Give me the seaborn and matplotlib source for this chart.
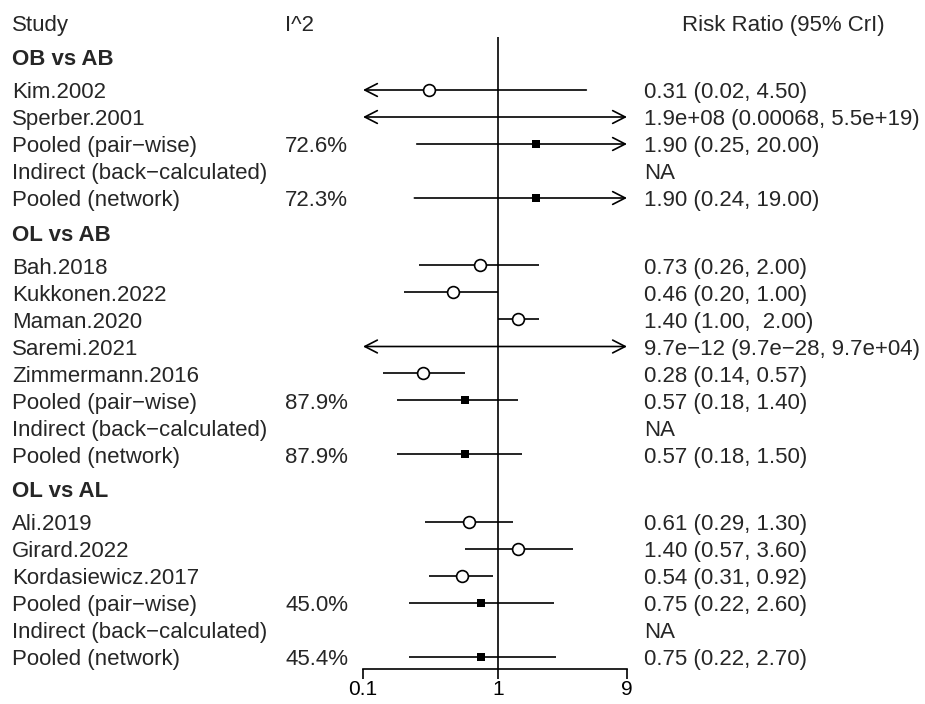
import numpy as np
import pandas as pd
import matplotlib
matplotlib.use("Agg")
import matplotlib.pyplot as plt
import matplotlib.transforms as mtransforms
from matplotlib.ticker import NullLocator
import seaborn as sns

sns.set_style("white")
plt.rcParams["font.family"] = ["Liberation Sans", "DejaVu Sans"]

# ---------------- data ----------------
group_names = ["OB vs AB", "OL vs AB", "OL vs AL"]

row_labels = [
    "Kim.2002", "Sperber.2001", "Pooled (pair\u2212wise)", "Indirect (back\u2212calculated)", "Pooled (network)",
    "Bah.2018", "Kukkonen.2022", "Maman.2020", "Saremi.2021", "Zimmermann.2016",
    "Pooled (pair\u2212wise)", "Indirect (back\u2212calculated)", "Pooled (network)",
    "Ali.2019", "Girard.2022", "Kordasiewicz.2017",
    "Pooled (pair\u2212wise)", "Indirect (back\u2212calculated)", "Pooled (network)",
]
row_group = [0, 0, 0, 0, 0,
             1, 1, 1, 1, 1, 1, 1, 1,
             2, 2, 2, 2, 2, 2]
row_kind = ["study", "study", "pooled", "na", "pooled",
            "study", "study", "study", "study", "study", "pooled", "na", "pooled",
            "study", "study", "study", "pooled", "na", "pooled"]
estimate = [0.31, 1.9e8, 1.90, np.nan, 1.90,
            0.73, 0.46, 1.40, 9.7e-12, 0.28, 0.57, np.nan, 0.57,
            0.61, 1.40, 0.54, 0.75, np.nan, 0.75]
lower = [0.02, 0.00068, 0.25, np.nan, 0.24,
         0.26, 0.20, 1.00, 9.7e-28, 0.14, 0.18, np.nan, 0.18,
         0.29, 0.57, 0.31, 0.22, np.nan, 0.22]
upper = [4.50, 5.5e19, 20.00, np.nan, 19.00,
         2.00, 1.00, 2.00, 9.7e4, 0.57, 1.40, np.nan, 1.50,
         1.30, 3.60, 0.92, 2.60, np.nan, 2.70]
i2_text = ["", "", "72.6%", "", "72.3%",
           "", "", "", "", "", "87.9%", "", "87.9%",
           "", "", "", "45.0%", "", "45.4%"]
rr_text = ["0.31 (0.02, 4.50)", "1.9e+08 (0.00068, 5.5e+19)", "1.90 (0.25, 20.00)", "NA", "1.90 (0.24, 19.00)",
           "0.73 (0.26, 2.00)", "0.46 (0.20, 1.00)", "1.40 (1.00,  2.00)", "9.7e\u221212 (9.7e\u221228, 9.7e+04)",
           "0.28 (0.14, 0.57)", "0.57 (0.18, 1.40)", "NA", "0.57 (0.18, 1.50)",
           "0.61 (0.29, 1.30)", "1.40 (0.57, 3.60)", "0.54 (0.31, 0.92)", "0.75 (0.22, 2.60)", "NA",
           "0.75 (0.22, 2.70)"]
x_ticks = [0.1, 1, 9]
x_tick_labels = ["0.1", "1", "9"]
header_study, header_i2, header_rr = "Study", "I^2", "Risk Ratio (95% CrI)"

# ---------------- layout ----------------
W, H = 925, 704
group_start = [0.0, 6.5, 16.0]
ypos = []
count = {0: 0, 1: 0, 2: 0}
for g in row_group:
    ypos.append(group_start[g] + count[g])
    count[g] += 1

df = pd.DataFrame({"label": row_labels, "group": row_group, "kind": row_kind,
                   "est": estimate, "lo": lower, "hi": upper, "y": ypos})

xmin, xmax = x_ticks[0], x_ticks[-1]
fig = plt.figure(figsize=(W / 100, H / 100), dpi=100)
ax_left, ax_right, ax_top, ax_bot = 363, 627, 37, 669
ax = fig.add_axes([ax_left / W, (H - ax_bot) / H, (ax_right - ax_left) / W, (ax_bot - ax_top) / H])
ax.set_xscale("log")
row_px0, row_px = 90, 27.0
ax.set_ylim((ax_bot - row_px0) / row_px, (ax_top - row_px0) / row_px)
ax.set_xlim(xmin, xmax)

lw = 1.2
ax.axvline(1, color="black", lw=lw, zorder=1)

# CI lines with arrows for clipped ends
for _, r in df.iterrows():
    if r["kind"] == "na":
        continue
    lo_c = max(r["lo"], xmin)
    hi_c = min(r["hi"], xmax)
    la = r["lo"] < xmin
    ra = r["hi"] > xmax
    if not la and not ra:
        ax.plot([lo_c, hi_c], [r["y"], r["y"]], color="black", lw=lw, zorder=2,
                solid_capstyle="butt")
    else:
        style = ("<->" if (la and ra) else ("<-" if la else "->"))
        ax.annotate("", xy=(hi_c, r["y"]), xytext=(lo_c, r["y"]), xycoords="data",
                    arrowprops=dict(arrowstyle=f"{style},head_length=0.45,head_width=0.23",
                                    lw=lw, color="black", shrinkA=0, shrinkB=0,
                                    mutation_scale=20), zorder=2)

vis = df[(df["est"] >= xmin) & (df["est"] <= xmax)]
sns.scatterplot(data=vis[vis["kind"] == "study"], x="est", y="y", marker="o", s=72,
                facecolor="white", edgecolor="black", linewidth=lw, zorder=3, ax=ax,
                legend=False)
sns.scatterplot(data=vis[vis["kind"] == "pooled"], x="est", y="y", marker="s", s=34,
                color="black", edgecolor="black", linewidth=0, zorder=3, ax=ax,
                legend=False)

ax.set_xlim(xmin, xmax)
ax.set_ylim((ax_bot - row_px0) / row_px, (ax_top - row_px0) / row_px)
ax.set_xlabel("")
ax.set_ylabel("")
ax.set_yticks([])
ax.set_xticks(x_ticks)
ax.set_xticklabels(x_tick_labels)
ax.xaxis.set_minor_locator(NullLocator())
for s in ["left", "right", "top"]:
    ax.spines[s].set_visible(False)
ax.spines["bottom"].set_linewidth(lw)
ax.spines["bottom"].set_color("black")
ax.tick_params(axis="x", which="major", bottom=True, length=7.5, width=lw, pad=0.5,
               labelsize=15, colors="black", direction="out")
ax.patch.set_alpha(0)

# ---------------- text columns ----------------
fs = 16
base = mtransforms.blended_transform_factory(fig.transFigure, ax.transData)
tr = mtransforms.offset_copy(base, fig=fig, y=-5.8, units="points")
col_study, col_i2, col_rr, col_rr_center = 12 / W, 285 / W, 644 / W, 783 / W

ax.text(col_study, -2.48, header_study, transform=tr, fontsize=fs, va="baseline", ha="left")
ax.text(col_i2, -2.48, header_i2, transform=tr, fontsize=fs, va="baseline", ha="left")
ax.text(col_rr_center, -2.48, header_rr, transform=tr, fontsize=fs, va="baseline", ha="center")

for g, name in enumerate(group_names):
    ax.text(col_study, group_start[g] - 1.22, name, transform=tr, fontsize=fs,
            fontweight="bold", va="baseline", ha="left")

for i in range(len(df)):
    y = ypos[i]
    ax.text(col_study, y, row_labels[i], transform=tr, fontsize=fs, va="baseline", ha="left")
    if i2_text[i]:
        ax.text(col_i2, y, i2_text[i], transform=tr, fontsize=fs, va="baseline", ha="left")
    ax.text(col_rr, y, rr_text[i], transform=tr, fontsize=fs, va="baseline", ha="left")

fig.savefig("out.png", dpi=100, facecolor="white")
